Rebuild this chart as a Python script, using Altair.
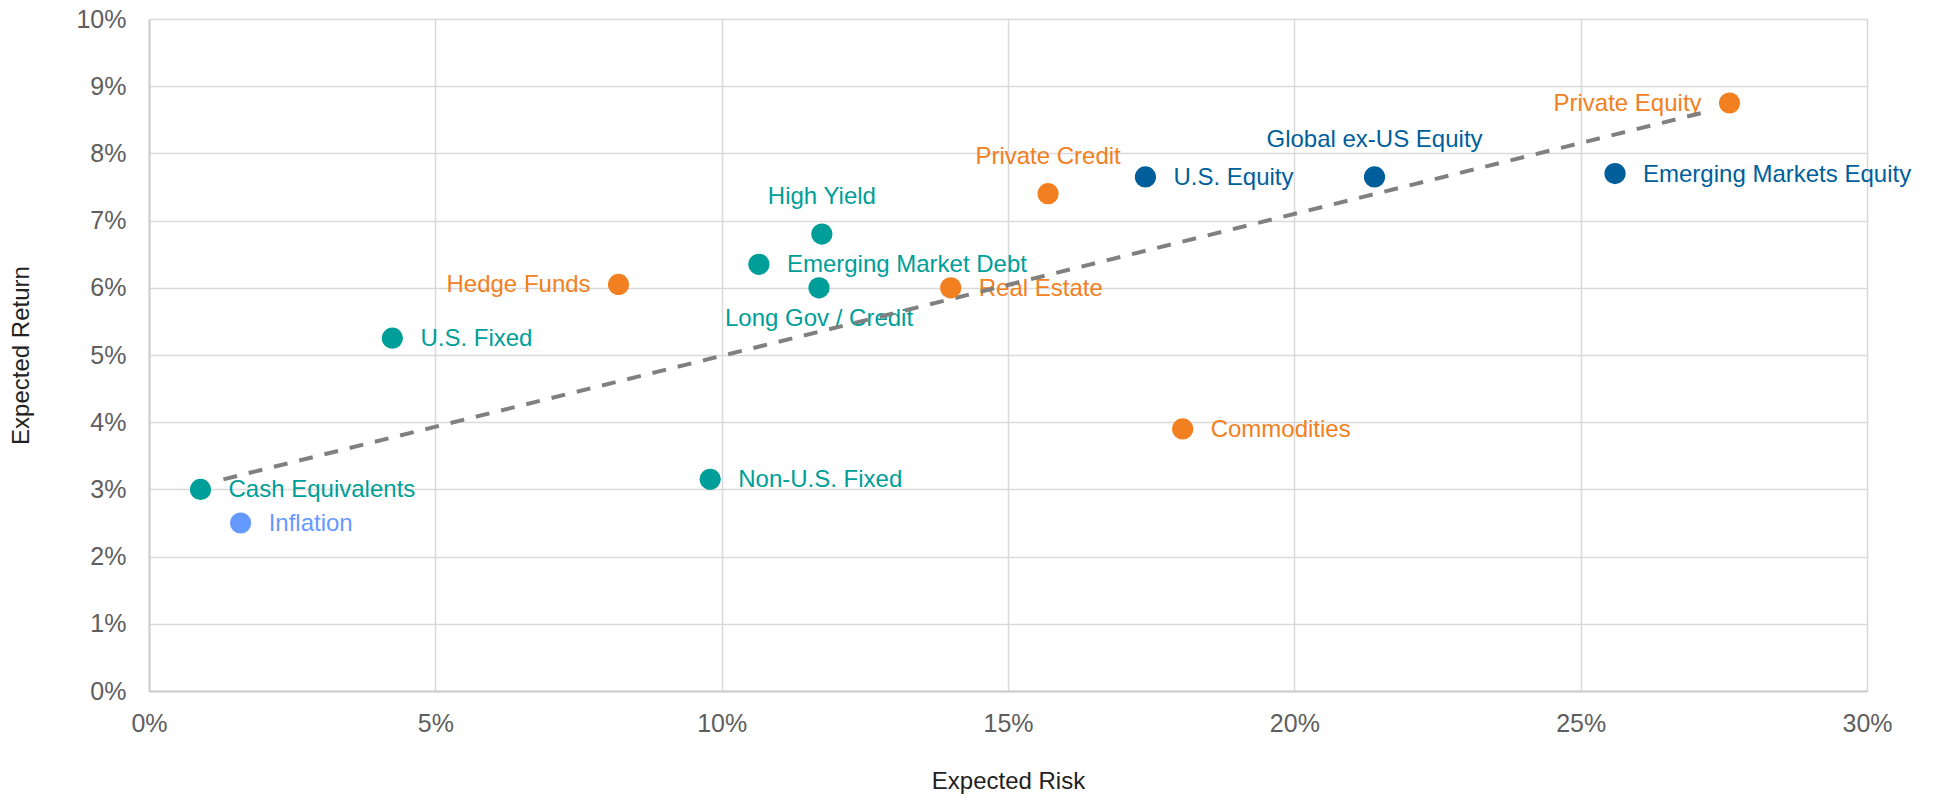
import altair as alt
import pandas as pd

# Capital market assumptions: expected risk vs expected return (both in %)
asset_classes = [
    "Cash Equivalents", "Inflation", "U.S. Fixed", "Hedge Funds", "Non-U.S. Fixed",
    "Emerging Market Debt", "High Yield", "Long Gov / Credit", "Real Estate",
    "Private Credit", "U.S. Equity", "Commodities", "Global ex-US Equity",
    "Emerging Markets Equity", "Private Equity",
]
expected_risk = [0.9, 1.6, 4.25, 8.2, 9.8, 10.65, 11.75, 11.7, 14.0, 15.7, 17.4, 18.05, 21.4, 25.6, 27.6]
expected_return = [3.0, 2.5, 5.25, 6.05, 3.15, 6.35, 6.8, 6.0, 6.0, 7.4, 7.65, 3.9, 7.65, 7.7, 8.75]
asset_group = [
    "Fixed Income", "Inflation", "Fixed Income", "Alternatives", "Fixed Income",
    "Fixed Income", "Fixed Income", "Fixed Income", "Alternatives",
    "Alternatives", "Equity", "Alternatives", "Equity",
    "Equity", "Alternatives",
]

# Fitted risk/return trend line end points
trend_risk = [1.3, 27.2]
trend_return = [3.15, 8.62]

group_names = ["Fixed Income", "Alternatives", "Equity", "Inflation"]
group_colors = ["#009E98", "#F28021", "#005F9B", "#6699FF"]

FONT = "Liberation Sans"

points = pd.DataFrame({
    "name": asset_classes,
    "risk": expected_risk,
    "ret": expected_return,
    "group": asset_group,
})
trend = pd.DataFrame({"risk": trend_risk, "ret": trend_return})

x_enc = alt.X(
    "risk:Q",
    scale=alt.Scale(domain=[0, 30], nice=False, zero=True),
    axis=alt.Axis(
        values=list(range(0, 31, 5)),
        labelExpr="datum.value + '%'",
        title="Expected Risk",
        grid=True,
        ticks=False,
        labelFlush=False,
        labelPadding=20,
        labelFontSize=25,
        labelColor="#5E5E5E",
        labelFont=FONT,
        titleFont=FONT,
        titleFontSize=24,
        titleFontWeight="normal",
        titleColor="#222222",
        titleX=859,
        titleY=90,
        titleBaseline="middle",
        titleAlign="center",
    ),
)
y_enc = alt.Y(
    "ret:Q",
    scale=alt.Scale(domain=[0, 10], nice=False, zero=True),
    axis=alt.Axis(
        values=list(range(0, 11)),
        labelExpr="datum.value + '%'",
        title="Expected Return",
        grid=True,
        ticks=False,
        labelFlush=False,
        labelPadding=23,
        labelFontSize=25,
        labelColor="#5E5E5E",
        labelFont=FONT,
        titleFont=FONT,
        titleFontSize=24,
        titleFontWeight="normal",
        titleColor="#222222",
        titleX=-128,
        titleY=336,
        titleAngle=270,
        titleAlign="center",
        titleBaseline="middle",
    ),
)
color_enc = alt.Color(
    "group:N",
    scale=alt.Scale(domain=group_names, range=group_colors),
    legend=None,
)

base = alt.Chart(points)

# Where each label sits relative to its dot
label_right = ["Cash Equivalents", "Inflation", "U.S. Fixed", "Non-U.S. Fixed",
               "Emerging Market Debt", "Real Estate", "U.S. Equity", "Commodities",
               "Emerging Markets Equity"]
label_left = ["Hedge Funds", "Private Equity"]
label_above = ["High Yield", "Private Credit", "Global ex-US Equity"]
label_below = ["Long Gov / Credit"]


def labels(names, align, dx, dy):
    return base.transform_filter(
        alt.FieldOneOfPredicate(field="name", oneOf=names)
    ).mark_text(
        align=align, baseline="middle", dx=dx, dy=dy, fontSize=24, font=FONT
    ).encode(x=x_enc, y=y_enc, text="name:N", color=color_enc)


text_layers = [
    labels(label_right, "left", 28, 1),
    labels(label_left, "right", -28, 1),
    labels(label_above, "center", 0, -37),
    labels(label_below, "center", 0, 31),
]

trend_line = alt.Chart(trend).mark_line(
    color="#808080", strokeWidth=4, strokeDash=[14, 12]
).encode(x=x_enc, y=y_enc)

dots = base.mark_circle(size=450, opacity=1).encode(
    x=x_enc, y=y_enc, color=color_enc, tooltip=["name:N", "risk:Q", "ret:Q"]
)

chart = alt.layer(*text_layers, trend_line, dots).properties(
    width=1718,
    height=672,
    autosize=alt.AutoSizeParams(type="none"),
    padding={"left": 149, "top": 19, "right": 66, "bottom": 105},
    background="white",
).configure_axis(
    gridColor="#D9D9D9",
    gridWidth=1.5,
    domainColor="#CCCCCC",
    domainWidth=2,
).configure_view(stroke=None)

chart.save("out.html", embed_options={"renderer": "svg", "actions": False})
